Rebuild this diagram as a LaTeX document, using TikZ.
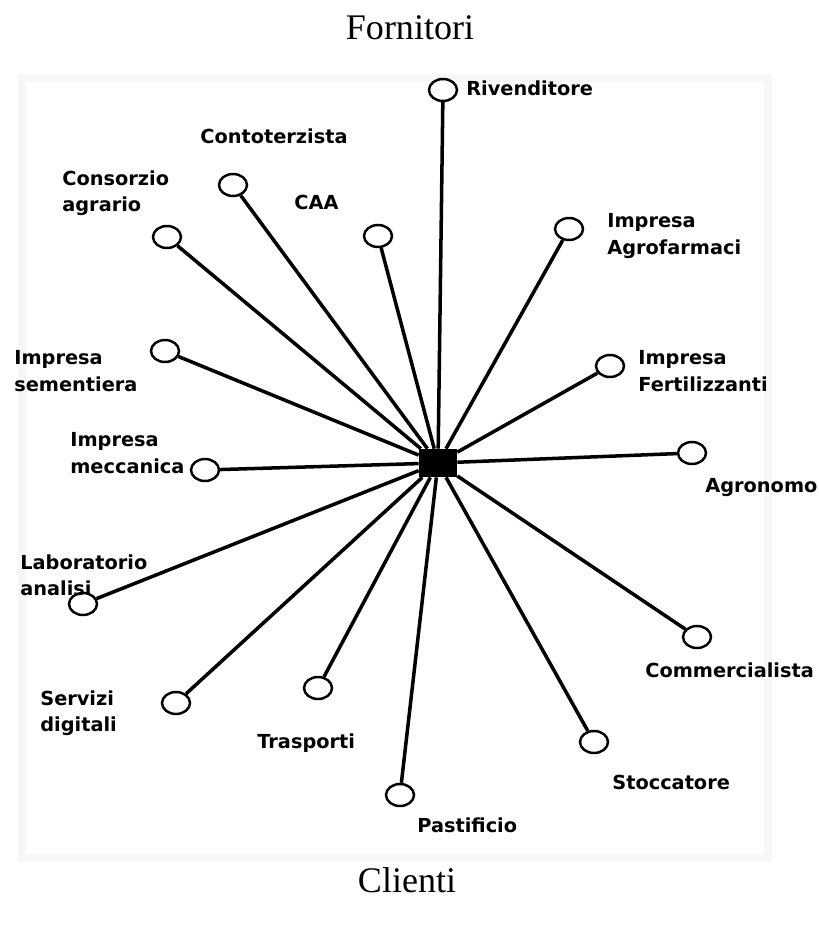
\documentclass[tikz,border=0pt]{standalone}
\usepackage{fontspec}
\setmainfont{Liberation Serif}
\newfontfamily\labelfont[BoldFont={DejaVu Sans Bold}]{DejaVu Sans}
\usetikzlibrary{shapes.geometric}

\tikzset{
  actor/.style={ellipse, draw, line width=1.4pt, minimum width=0.56cm, minimum height=0.44cm, inner sep=0pt},
  hubbox/.style={rectangle, fill=black, minimum width=0.76cm, minimum height=0.56cm, inner sep=0pt},
  tag/.style={anchor=west, align=left, inner sep=0pt, font=\labelfont\bfseries\fontsize{11}{15}\selectfont},
  title/.style={font=\fontsize{20.5}{24}\selectfont},
  link/.style={line width=2pt}
}

\begin{document}
\begin{tikzpicture}[x=0.02cm, y=-0.02cm]
    \useasboundingbox (0,0) rectangle (818,926);
    % faint page edge of the scan
    \draw[black!3, line width=4pt] (22,78) rectangle (768,858);

    \node[title] (fornitori) at (410,28) {Fornitori};
    \node[title] (clienti) at (407,880) {Clienti};

    \node[hubbox] (hub) at (438,463) {};

    % actors
    \node[actor] (riv) at (443,90) {};
    \node[actor] (cto) at (233,185) {};
    \node[actor] (con) at (167,237) {};
    \node[actor] (caa) at (378,236) {};
    \node[actor] (agf) at (569,229) {};
    \node[actor] (sem) at (165,351) {};
    \node[actor] (fer) at (610,366) {};
    \node[actor] (mec) at (205,470) {};
    \node[actor] (agr) at (692,453) {};
    \node[actor] (lab) at (83,604) {};
    \node[actor] (com) at (697,637) {};
    \node[actor] (dig) at (176,703) {};
    \node[actor] (tra) at (318,688) {};
    \node[actor] (pas) at (400,795) {};
    \node[actor] (sto) at (594,742) {};

    % labels
    \node[tag] (t-riv) at (466,88) {Rivenditore};
    \node[tag] (t-cto) at (200,136) {Contoterzista};
    \node[tag] (t-con) at (62,193) {Consorzio\\agrario};
    \node[tag] (t-caa) at (294,202) {CAA};
    \node[tag] (t-agf) at (607,236) {Impresa\\Agrofarmaci};
    \node[tag] (t-sem) at (14,371) {Impresa\\sementiera};
    \node[tag] (t-fer) at (638,371) {Impresa\\Fertilizzanti};
    \node[tag] (t-mec) at (70,453) {Impresa\\meccanica};
    \node[tag] (t-agr) at (705,488) {Agronomo};
    \node[tag] (t-lab) at (20,575) {Laboratorio\\analisi};
    \node[tag] (t-com) at (645,670) {Commercialista};
    \node[tag] (t-dig) at (40,713) {Servizi\\digitali};
    \node[tag] (t-tra) at (257,743) {Trasporti};
    \node[tag] (t-pas) at (417,825) {Pastificio};
    \node[tag] (t-sto) at (612,782) {Stoccatore};

    % links to the farm
    \draw[link] (hub) -- (riv);
    \draw[link] (hub) -- (cto);
    \draw[link] (hub) -- (con);
    \draw[link] (hub) -- (caa);
    \draw[link] (hub) -- (agf);
    \draw[link] (hub) -- (sem);
    \draw[link] (hub) -- (fer);
    \draw[link] (hub) -- (mec);
    \draw[link] (hub) -- (agr);
    \draw[link] (hub) -- (lab);
    \draw[link] (hub) -- (com);
    \draw[link] (hub) -- (dig);
    \draw[link] (hub) -- (tra);
    \draw[link] (hub) -- (pas);
    \draw[link] (hub) -- (sto);
\end{tikzpicture}
\end{document}
